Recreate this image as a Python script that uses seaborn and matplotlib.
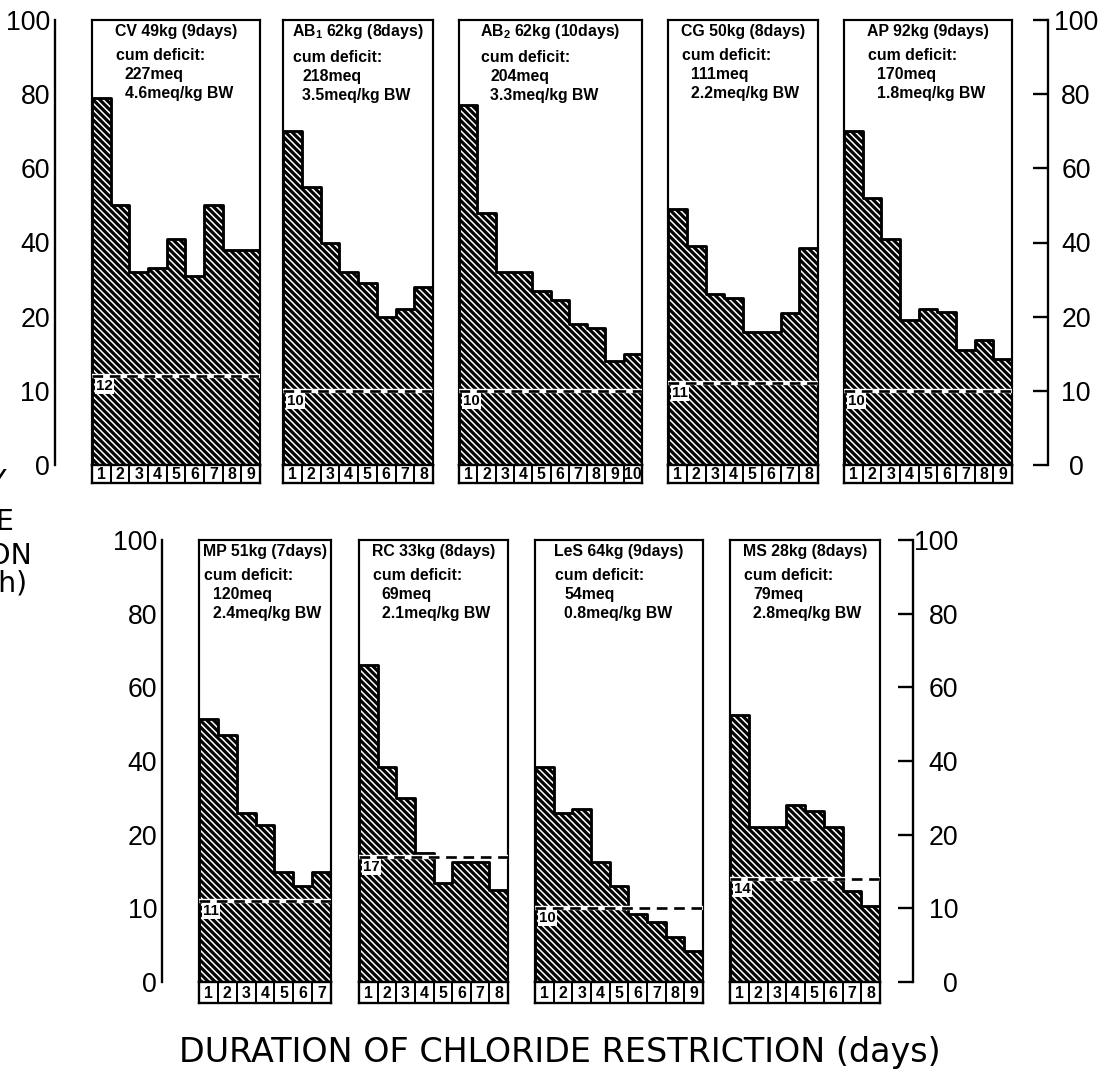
"""
Daily urinary chloride excretion during chloride restriction, one panel per subject
"""
import numpy as np
import pandas as pd
import matplotlib
matplotlib.use('Agg')
import matplotlib.pyplot as plt
import seaborn as sns

# ---- values (meq/24h, one value per day) ----
cv_values = [79, 50, 32, 33, 41, 31, 50, 38, 38]
ab1_values = [70, 55, 40, 32, 29, 20, 22, 28]
ab2_values = [77, 48, 32, 32, 27, 24.5, 19, 18.5, 14, 15]
cg_values = [49, 39, 26, 25, 18, 18, 21, 38.5]
ap_values = [70, 52, 41, 19.5, 22, 21.3, 15.5, 16.8, 14.3]
mp_values = [51.5, 47, 26, 22.5, 15, 13, 15]
rc_values = [66, 38.5, 30, 17.5, 13.4, 16.3, 16.3, 12.5]
les_values = [38.5, 26, 27, 16.3, 13, 9.2, 8.1, 6.1, 4.2]
ms_values = [52.5, 22, 22, 28, 26.5, 22, 12.3, 10.3]

subject_names = ['CV', r'AB$_\mathbf{1}$', r'AB$_\mathbf{2}$', 'CG', 'AP',
                 'MP', 'RC', 'LeS', 'MS']
body_weights = [49, 62, 62, 50, 92, 51, 33, 64, 28]
cum_deficit_meq = [227, 218, 204, 111, 170, 120, 69, 54, 79]
deficit_per_kg = ['4.6', '3.5', '3.3', '2.2', '1.8', '2.4', '2.1', '0.8', '2.8']
baseline_levels = [12, 10, 10, 11, 10, 11, 17, 10, 14]
daily_values = [cv_values, ab1_values, ab2_values, cg_values, ap_values,
                mp_values, rc_values, les_values, ms_values]
axis_ticks = [0, 10, 20, 40, 60, 80, 100]

# ---- layout (pixels of the 1108x1074 canvas) ----
W, H = 1108, 1074
DPI = 120
PT = 72 / DPI  # points per pixel

panel_row = [0, 0, 0, 0, 0, 1, 1, 1, 1]
panel_left = [92, 283, 459, 668, 844, 199, 359, 535, 730]
panel_right = [260, 433, 642, 818, 1012, 331, 508, 703, 880]
rows = [dict(top=20, zero=465, day_bottom=483),
        dict(top=540, zero=982, day_bottom=1003)]

PANEL_FONT = ['Liberation Sans', 'DejaVu Sans']


def fwd(v):
    # 0-20 runs at 10 per step, 20-100 at 20 per step
    v = np.asarray(v, dtype=float)
    return np.where(v < 20, v / 10, 1 + v / 20)


def inv(p):
    p = np.asarray(p, dtype=float)
    return np.where(p < 2, p * 10, (p - 1) * 20)


sns.set_style("white")
plt.rcParams['font.family'] = ['DejaVu Sans']
plt.rcParams['mathtext.fontset'] = 'custom'
plt.rcParams['mathtext.bf'] = 'Liberation Sans:bold'
plt.rcParams['hatch.linewidth'] = 1.9
for key in ['text.color', 'axes.labelcolor', 'xtick.color', 'ytick.color',
            'axes.edgecolor']:
    plt.rcParams[key] = 'black'

fig = plt.figure(figsize=(W / DPI, H / DPI), dpi=DPI)
fig.patch.set_facecolor('white')


def box(l, r, top, bottom):
    return [l / W, 1 - bottom / H, (r - l) / W, (bottom - top) / H]


for i, vals in enumerate(daily_values):
    row = rows[panel_row[i]]
    l, r = panel_left[i], panel_right[i]
    n = len(vals)
    ax = fig.add_axes(box(l, r, row['top'], row['zero']))
    ax.set_yscale('function', functions=(fwd, inv))

    df = pd.DataFrame({'day': np.arange(1, n + 1), 'excretion': vals})
    sns.histplot(data=df, x='day', weights='excretion', discrete=True,
                 element='step', fill=True, facecolor='white',
                 edgecolor='black', hatch='\\' * 6, linewidth=1.7, ax=ax)

    ax.set_xlim(0.5, n + 0.5)
    ax.set_ylim(0, 100)
    ax.set_xticks([])
    ax.set_yticks([])
    ax.set_xlabel('')
    ax.set_ylabel('')
    for s in ax.spines.values():
        s.set_visible(True)
        s.set_linewidth(1.3)
        s.set_color('black')

    # baseline (pre-restriction) level
    lvl = baseline_levels[i]
    ax.axhline(lvl, color='white', lw=2.6, zorder=3)
    ax.axhline(lvl, color='black', lw=1.6, ls=(0, (4, 2.5)), zorder=4)
    ax.annotate(str(lvl), xy=(0, lvl), xycoords=('axes fraction', 'data'),
                xytext=(4 * PT, -3 * PT), textcoords='offset points',
                ha='left', va='top', fontsize=9, fontweight='bold', zorder=5,
                family=PANEL_FONT, bbox=dict(fc='white', ec='none', pad=0.6))

    # subject header
    header = f"{subject_names[i]} {body_weights[i]}kg ({n}days)"
    t1 = ax.annotate(header, xy=(0.5, 1), xycoords='axes fraction',
                     xytext=(0, -16 * PT), textcoords='offset points',
                     ha='center', va='baseline', fontsize=9.5,
                     fontweight='bold', family=PANEL_FONT)
    lines = ['cum deficit:', f"{cum_deficit_meq[i]}meq",
             f"{deficit_per_kg[i]}meq/kg BW"]
    offs = [(1, -21), (10, -40), (10, -59)]
    for txt, (dx, dy) in zip(lines, offs):
        ax.annotate(txt, xy=(0, 0), xycoords=t1, xytext=(dx * PT, dy * PT),
                    textcoords='offset points', ha='left', va='baseline',
                    fontsize=9.5, fontweight='bold', family=PANEL_FONT)

    # day numbers below the panel
    dax = fig.add_axes(box(l, r, row['zero'], row['day_bottom']))
    dax.set_xlim(0.5, n + 0.5)
    dax.set_ylim(0, 1)
    dax.set_xticks([])
    dax.set_yticks([])
    for s in dax.spines.values():
        s.set_visible(True)
        s.set_linewidth(1.4)
        s.set_color('black')
    for k in range(1, n):
        dax.axvline(k + 0.5, color='black', lw=1.2)
    for k in range(1, n + 1):
        dax.text(k, 0.45, str(k), ha='center', va='center',
                 fontsize=9.5, fontweight='bold', family=PANEL_FONT)


def scale_axis(x_px, row, side, ha, pad_px):
    sax = fig.add_axes(box(x_px, x_px + 0.1, row['top'], row['zero']))
    sax.set_yscale('function', functions=(fwd, inv))
    sax.set_ylim(0, 100)
    sax.set_xticks([])
    sax.set_yticks(axis_ticks)
    sax.set_yticklabels([str(t) for t in axis_ticks], family=PANEL_FONT)
    for name, s in sax.spines.items():
        s.set_visible(name == side)
    sax.spines[side].set_linewidth(1.4)
    if side == 'right':
        sax.yaxis.tick_right()
    sax.tick_params(axis='y', direction='in', length=9, width=1.4,
                    labelsize=16, pad=pad_px * PT)
    for lab in sax.get_yticklabels():
        lab.set_horizontalalignment(ha)
    sax.patch.set_visible(False)


scale_axis(55, rows[0], 'left', 'right', 5)
scale_axis(1048, rows[0], 'right', 'center', 28)
scale_axis(162, rows[1], 'left', 'right', 5)
scale_axis(913, rows[1], 'right', 'right', 45)

# y label, cut off by the left edge of the page as in the source scan
ylabel_lines = ['URINARY', 'CHLORIDE', 'EXCRETION', '(meq/24h)']
ylabel_right = [7, 14, 32, 28]
ylabel_y = [482, 522, 556, 584]
for txt, xr, yc in zip(ylabel_lines, ylabel_right, ylabel_y):
    fig.text(xr / W, 1 - yc / H, txt, ha='right', va='center', fontsize=17)

fig.text(560 / W, 1 - 1062 / H, 'DURATION OF CHLORIDE RESTRICTION (days)',
         ha='center', va='baseline', fontsize=20)

fig.savefig('out.png', dpi=DPI, facecolor='white')
